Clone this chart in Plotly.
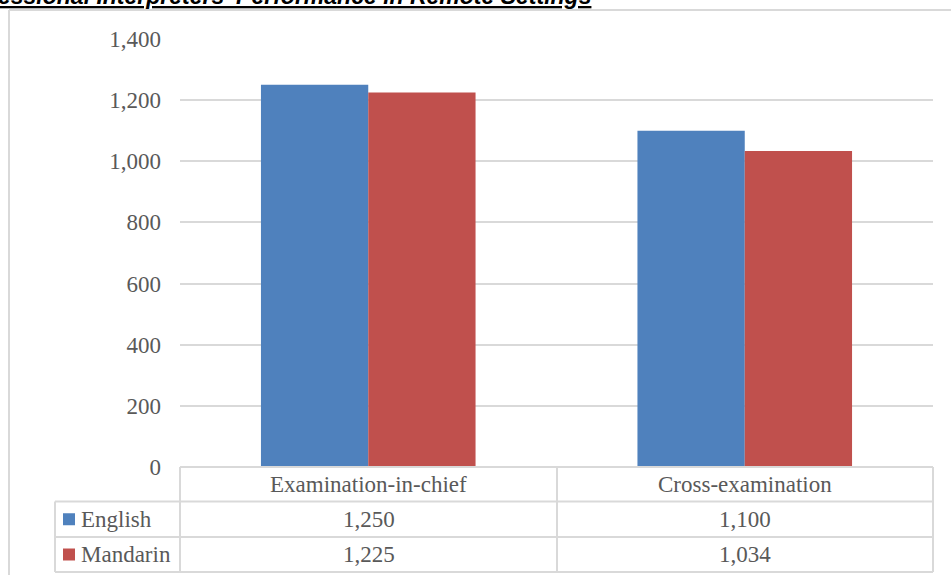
import plotly.graph_objects as go

# ---- data ----
categories = ["Examination-in-chief", "Cross-examination"]
series_names = ["English", "Mandarin"]
english = [1250, 1100]
mandarin = [1225, 1034]
series_values = [english, mandarin]
series_colors = ["#4F81BD", "#C0504D"]
y_ticks = [0, 200, 400, 600, 800, 1000, 1200, 1400]
title_text = "Professional Interpreters' Performance in Remote Settings"

# ---- geometry (pixels) ----
W, H = 951, 575
L, R, T, B = 180, 18, 39, 108
PW, PH = W - L - R, H - T - B

def xp(px):
    return (px - L) / PW

def yp(py):
    return (H - B - py) / PH

GRID = "#D9D9D9"
TXT = "#595959"
SERIF = "Liberation Serif, Times New Roman, serif"
FS = 23

fig = go.Figure()
for name, vals, col in zip(series_names, series_values, series_colors):
    fig.add_trace(go.Bar(x=categories, y=vals, name=name,
                         marker=dict(color=col, line=dict(width=0)),
                         showlegend=False))

shapes = []
def line(x0, y0, x1, y1, w=2, c=GRID):
    shapes.append(dict(type="line", xref="paper", yref="paper",
                       x0=xp(x0), y0=yp(y0), x1=xp(x1), y1=yp(y1),
                       line=dict(color=c, width=w), layer="above"))

# outer chart frame
line(9, 10, 951, 10)
line(9, 10, 9, 575)

# data table
row_y = [467, 501.5, 537, 572]
col_x = [55, 180, 557, 933]
line(180, row_y[0], 933, row_y[0])
for yy in row_y[1:]:
    line(55, yy, 933, yy)
line(55, row_y[1], 55, row_y[3])
for xx in col_x[1:]:
    line(xx, row_y[0], xx, row_y[3])

annotations = []
centers_x = [(col_x[1] + col_x[2]) / 2, (col_x[2] + col_x[3]) / 2]
header_cy = (row_y[0] + row_y[1]) / 2
for cx, cat in zip(centers_x, categories):
    annotations.append(dict(x=xp(cx), y=yp(header_cy), xref="paper", yref="paper",
                            text=cat, showarrow=False, xanchor="center", yanchor="middle",
                            font=dict(family=SERIF, size=FS, color=TXT)))
for i, (name, vals, col) in enumerate(zip(series_names, series_values, series_colors)):
    cy = (row_y[i + 1] + row_y[i + 2]) / 2
    shapes.append(dict(type="rect", xref="paper", yref="paper",
                       x0=xp(63), x1=xp(75), y0=yp(cy - 6), y1=yp(cy + 6),
                       fillcolor=col, line=dict(width=0)))
    annotations.append(dict(x=xp(79), y=yp(cy), xref="paper", yref="paper",
                            text=name, showarrow=False, xanchor="left", yanchor="middle",
                            font=dict(family=SERIF, size=FS, color=TXT)))
    for cx, v in zip(centers_x, vals):
        annotations.append(dict(x=xp(cx), y=yp(cy), xref="paper", yref="paper",
                                text=f"{v:,}", showarrow=False, xanchor="center",
                                yanchor="middle",
                                font=dict(family=SERIF, size=FS, color=TXT)))

# title (partly cut off at top-left, as in the reference)
annotations.append(dict(x=xp(593), y=yp(-4), xref="paper", yref="paper",
                        text=f"<b><i><u>{title_text}</u></i></b>", showarrow=False,
                        xanchor="right", yanchor="middle",
                        font=dict(family="Liberation Sans, Arial, sans-serif", size=23,
                                  color="#000000")))

fig.update_layout(
    width=W, height=H,
    margin=dict(l=L, r=R, t=T, b=B, pad=0),
    paper_bgcolor="white", plot_bgcolor="white",
    barmode="group", bargap=0.43, bargroupgap=0,
    shapes=shapes, annotations=annotations,
    xaxis=dict(showticklabels=False, showgrid=False, zeroline=False,
               showline=False, ticks="", range=[-0.5, 1.5]),
    yaxis=dict(range=[0, 1400], tickvals=y_ticks, tickformat=",",
               showgrid=True, gridcolor=GRID, gridwidth=1.5,
               zeroline=False, showline=False, ticks="",
               ticklabelstandoff=18,
               tickfont=dict(family=SERIF, size=FS, color=TXT)),
)

fig.write_html("out.html")
